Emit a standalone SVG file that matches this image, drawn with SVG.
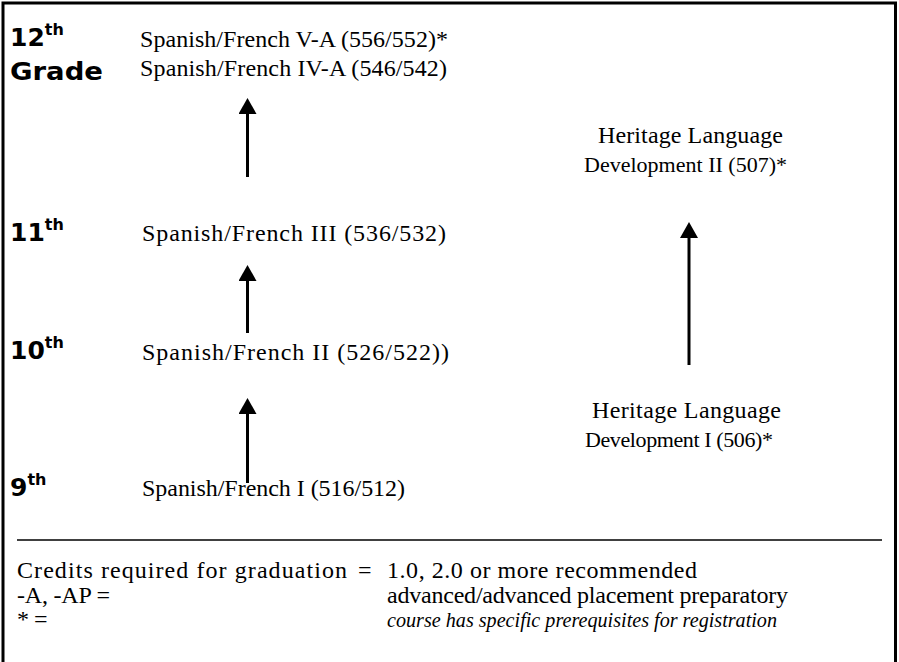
<svg xmlns="http://www.w3.org/2000/svg" width="899" height="662" viewBox="0 0 899 662">
<defs>
<style>
.c{font-family:"Liberation Serif","Times New Roman",serif;font-size:24px;fill:#000}
.d{font-size:22px}
.i{font-style:italic;font-size:21px}
.g{font-family:"DejaVu Sans",Verdana,sans-serif;font-weight:bold;font-size:25px;fill:#000}
.s{font-size:16px}
.e{stroke:#000;stroke-width:3;fill:none}
</style>
<marker id="ah" markerWidth="6" markerHeight="6" refX="0" refY="3" orient="auto" markerUnits="strokeWidth"><path d="M0,0 L5.3,3 L0,6 Z" fill="#000"/></marker>
</defs>
<rect width="899" height="662" fill="#fff"/>
<path d="M3,664 V3 H895.5 V664" class="e"/>
<line x1="17" y1="540" x2="882" y2="540" stroke="#000" stroke-width="1.5"/>
<g id="grades">
<text class="g" x="10" y="46">12<tspan class="s" dy="-11">th</tspan></text>
<text class="g" x="10" y="80" textLength="93" lengthAdjust="spacingAndGlyphs">Grade</text>
<text class="g" x="10" y="241">11<tspan class="s" dy="-11">th</tspan></text>
<text class="g" x="10" y="359">10<tspan class="s" dy="-11">th</tspan></text>
<text class="g" x="10" y="496">9<tspan class="s" dy="-11">th</tspan></text>
</g>
<g id="n12"><text class="c" x="140" y="47" textLength="308">Spanish/French V-A (556/552)*</text><text class="c" x="140" y="76" textLength="307">Spanish/French IV-A (546/542)</text></g>
<g id="n11"><text class="c" x="142" y="241" textLength="304">Spanish/French III (536/532)</text></g>
<g id="n10"><text class="c" x="142" y="360" textLength="307">Spanish/French II (526/522))</text></g>
<g id="n9"><text class="c" x="142" y="496" textLength="263">Spanish/French I (516/512)</text></g>
<g id="h2"><text class="c" x="598" y="143" textLength="185">Heritage Language</text><text class="c d" x="584" y="172" textLength="203">Development II (507)*</text></g>
<g id="h1"><text class="c" x="592" y="418" textLength="189">Heritage Language</text><text class="c d" x="585" y="447" textLength="188">Development I (506)*</text></g>
<g id="connectors" stroke="#000" stroke-width="3" marker-end="url(#ah)">
<line x1="247.5" y1="177" x2="247.5" y2="114"/>
<line x1="247.5" y1="333" x2="247.5" y2="281"/>
<line x1="247.5" y1="483" x2="247.5" y2="414"/>
<line x1="689" y1="365" x2="689" y2="238"/>
</g>
<g id="legend">
<text class="c" x="17" y="578" textLength="330">Credits required for graduation</text>
<text class="c" x="358" y="578">=</text>
<text class="c" x="387" y="578" textLength="310">1.0, 2.0 or more recommended</text>
<text class="c" x="17" y="603" textLength="93">-A, -AP =</text>
<text class="c" x="387" y="603" textLength="401">advanced/advanced placement preparatory</text>
<text class="c" x="17" y="627">*</text>
<text class="c" x="34" y="627">=</text>
<text class="c i" x="387" y="627" textLength="390" lengthAdjust="spacingAndGlyphs">course has specific prerequisites for registration</text>
</g>
</svg>
